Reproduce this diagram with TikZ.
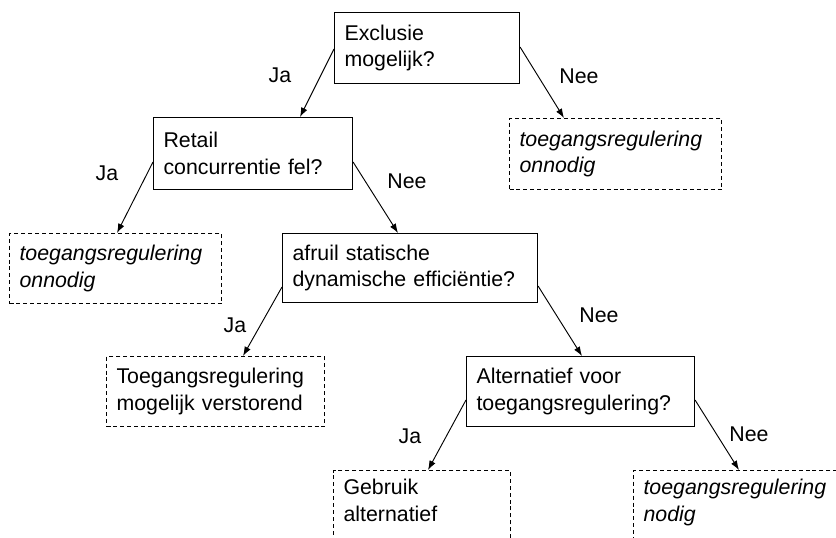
\documentclass[tikz,border=0pt]{standalone}
\usepackage{fontspec}
\setmainfont{Liberation Sans}
\usetikzlibrary{arrows.meta,calc}
\begin{document}
\begin{tikzpicture}[x=0.75pt,y=-0.75pt,
  box/.style={draw, line width=0.8pt, align=left, anchor=north west,
    inner xsep=7.5pt, inner ysep=0pt, font=\fontsize{16}{20}\selectfont},
  dbox/.style={box, dash pattern=on 3pt off 2.2pt},
  ibox/.style={dbox, font=\fontsize{16}{20}\selectfont\itshape},
  cutbox/.style={inner ysep=6.4pt, text depth=60pt},
  arr/.style={-{Latex[length=7pt,width=5pt]}, line width=0.7pt},
  lbl/.style={font=\fontsize{16}{20}\selectfont, inner sep=0pt}]
\clip (0,0) rectangle (836,538);
% boxes
\node[box, text width=123.75pt, minimum height=53.25pt] (b1) at (334,12) {Exclusie\\mogelijk?};
\node[box, text width=134.25pt, minimum height=54pt] (b2) at (153,117) {Retail\\concurrentie fel?};
\node[ibox, text width=144pt, minimum height=53.25pt] (b3) at (509,118) {toegangsregulering\\onnodig};
\node[ibox, text width=144pt, minimum height=52.5pt] (b4) at (9,233) {toegangsregulering\\onnodig};
\node[box, text width=176.25pt, minimum height=51.75pt] (b5) at (282,233) {afruil statische\\dynamische efficiëntie?};
\node[dbox, text width=148.5pt, minimum height=52.5pt] (b6) at (106,356) {Toegangsregulering\\mogelijk verstorend};
\node[box, text width=156pt, minimum height=52.5pt] (b7) at (466,356) {Alternatief voor\\toegangsregulering?};
\node[dbox, cutbox, text width=117.75pt] (b8) at (333,470) {Gebruik\\alternatief};
\node[ibox, cutbox, text width=144pt] (b9) at (633,470) {toegangsregulering\\nodig};
% connectors
\draw[arr] ($(b1.north west)+(0,37)$) -- ($(b2.north west)+(147,0)$);
\draw[arr] ($(b1.north east)+(0,35)$) -- ($(b3.north west)+(55,0)$);
\draw[arr] ($(b2.north west)+(0,45)$) -- ($(b4.north west)+(108,0)$);
\draw[arr] ($(b2.north east)+(0,45)$) -- ($(b5.north west)+(116,0)$);
\draw[arr] ($(b5.north west)+(0,54)$) -- ($(b6.north west)+(137,0)$);
\draw[arr] ($(b5.north east)+(0,53)$) -- ($(b7.north west)+(116,0)$);
\draw[arr] ($(b7.north west)+(0,44)$) -- ($(b8.north west)+(95,0)$);
\draw[arr] ($(b7.north east)+(0,44)$) -- ($(b9.north west)+(106,0)$);
% labels
\node[lbl] (l1) at (280,75) {Ja};
\node[lbl] (l2) at (579,76) {Nee};
\node[lbl] (l3) at (107,173) {Ja};
\node[lbl] (l4) at (407,181) {Nee};
\node[lbl] (l5) at (235,325) {Ja};
\node[lbl] (l6) at (599,315) {Nee};
\node[lbl] (l7) at (410,436) {Ja};
\node[lbl] (l8) at (749,434) {Nee};
\end{tikzpicture}
\end{document}
